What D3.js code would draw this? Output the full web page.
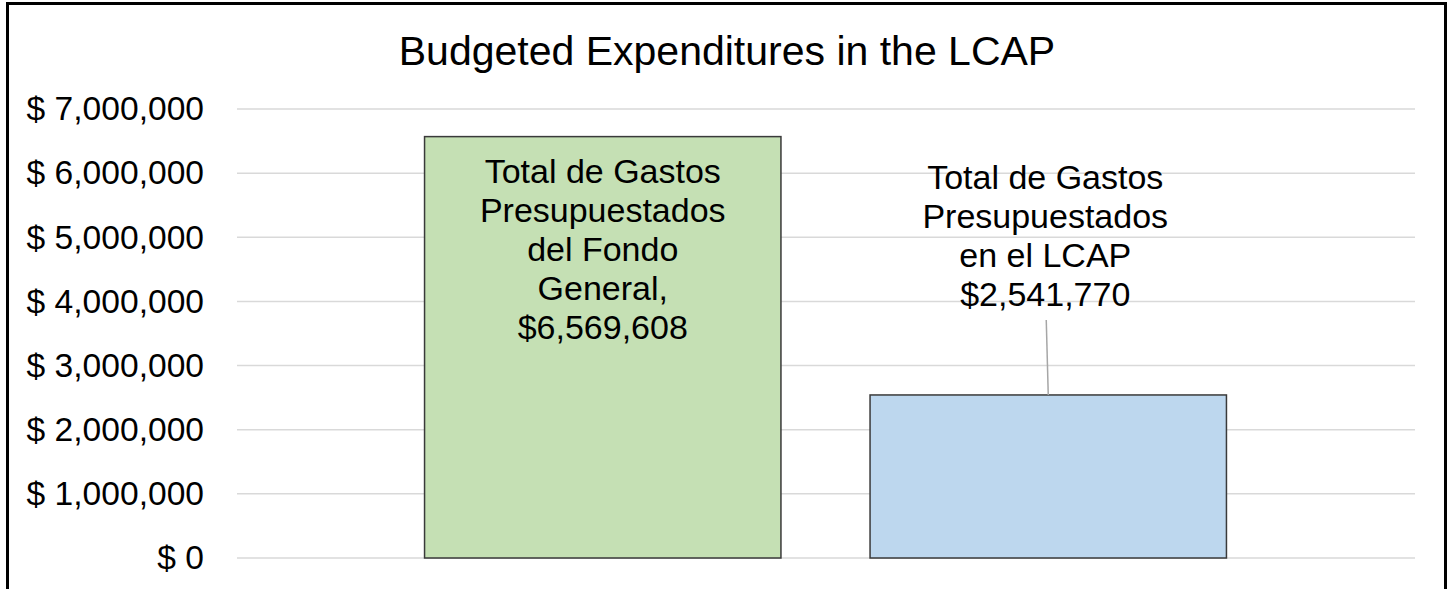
<!DOCTYPE html>
<html lang="en">
  <head>
    <meta charset="UTF-8" />
    <title>Budgeted Expenditures in the LCAP</title>
    <script src="https://cdn.jsdelivr.net/npm/d3@7"></script>
    <style>
      body { margin: 0; background: #fff; }
      svg { display: block; font-family: "Liberation Sans", Arial, sans-serif; }
    </style>
  </head>
  <body>
    <svg width="1448" height="589"></svg>
    <script>
      // data
      const categories = ["General Fund", "LCAP"];
      const values = [6569608, 2541770];
      const barLabels = [
        ["Total de Gastos", "Presupuestados", "del Fondo", "General,", "$6,569,608"],
        ["Total de Gastos", "Presupuestados", "en el LCAP", "$2,541,770"]
      ];
      const tickValues = [0, 1000000, 2000000, 3000000, 4000000, 5000000, 6000000, 7000000];
      const fills = ["#c5e0b4", "#bdd7ee"];

      const svg = d3.select("svg");

      // outer frame
      svg.append("rect")
        .attr("x", 7.5).attr("y", 3.5)
        .attr("width", 1438).attr("height", 620)
        .attr("fill", "none").attr("stroke", "#000").attr("stroke-width", 3);

      const y = d3.scaleLinear().domain([0, 7000000]).range([558, 109]);
      const x = d3.scaleBand().domain(categories).range([380, 1271])
        .paddingInner(0.2).paddingOuter(0.1);

      // gridlines
      svg.append("g").selectAll("line")
        .data(tickValues).enter().append("line")
        .attr("x1", 237).attr("x2", 1415)
        .attr("y1", d => y(d)).attr("y2", d => y(d))
        .attr("stroke", "#d9d9d9").attr("stroke-width", 1.5);

      // y axis labels
      const fmt = d => "$ " + d3.format(",")(d);
      const yAxis = d3.axisLeft(y).tickValues(tickValues).tickFormat(fmt).tickSize(0).tickPadding(0);
      const ga = svg.append("g").attr("transform", "translate(204,0)").call(yAxis);
      ga.select(".domain").remove();
      ga.selectAll("text").attr("font-size", 33.6).attr("fill", "#000")
        .attr("font-family", "Liberation Sans, Arial, sans-serif");

      // title
      svg.append("text")
        .attr("x", 727).attr("y", 65)
        .attr("text-anchor", "middle")
        .attr("font-size", 41)
        .text("Budgeted Expenditures in the LCAP");

      // bars
      svg.append("g").selectAll("rect")
        .data(values).enter().append("rect")
        .attr("x", (d, i) => x(categories[i]))
        .attr("y", d => y(d))
        .attr("width", x.bandwidth())
        .attr("height", d => y(0) - y(d))
        .attr("fill", (d, i) => fills[i])
        .attr("stroke", "#3a3a3a").attr("stroke-width", 1.5);

      // leader line for LCAP label
      const cx1 = x(categories[1]) + x.bandwidth() / 2;
      svg.append("line")
        .attr("x1", cx1 - 2).attr("y1", 320)
        .attr("x2", cx1).attr("y2", y(values[1]))
        .attr("stroke", "#a6a6a6").attr("stroke-width", 1.5);

      // labels
      const labelTop = [183, 189];
      barLabels.forEach((lines, i) => {
        const cx = x(categories[i]) + x.bandwidth() / 2 - (i === 1 ? 3 : 0);
        svg.append("text")
          .attr("text-anchor", "middle")
          .attr("font-size", 34)
          .selectAll("tspan").data(lines).enter().append("tspan")
          .attr("x", cx)
          .attr("y", (d, j) => labelTop[i] + j * 39)
          .text(d => d);
      });
    </script>
  </body>
</html>
